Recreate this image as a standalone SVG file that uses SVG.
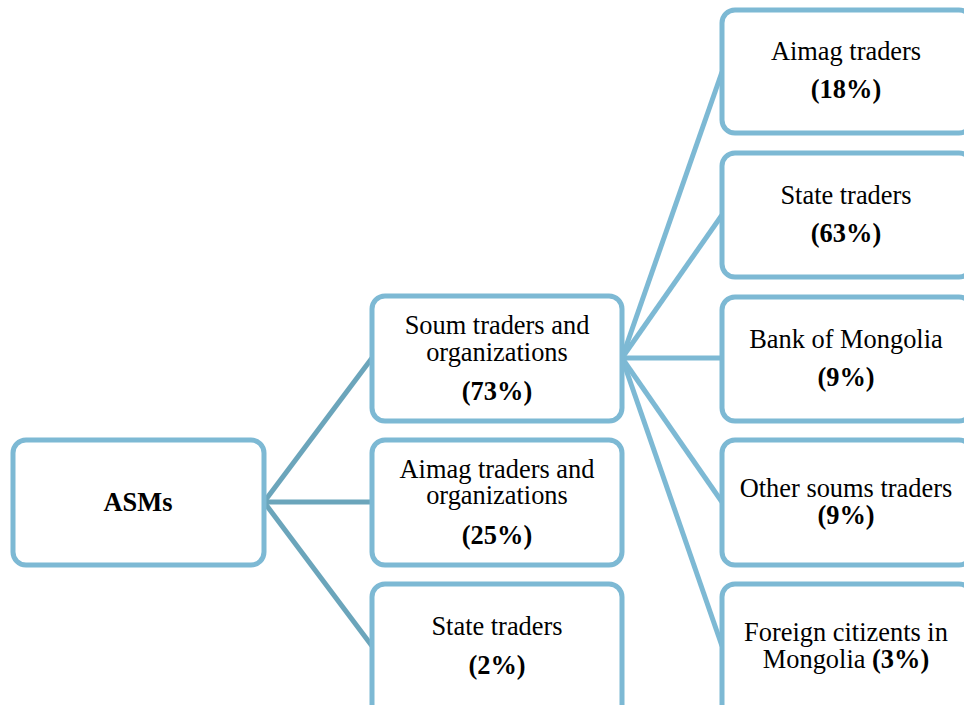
<svg xmlns="http://www.w3.org/2000/svg" width="964" height="705" viewBox="0 0 964 705">
<style>
.box{fill:#fff;stroke:#7db9d4;stroke-width:5}
.t{font-family:"Liberation Serif","Times New Roman",serif;font-size:26.4px;fill:#000;text-anchor:middle}
.b{font-weight:bold}
.c1{stroke:#6ba5bb;stroke-width:5;fill:none}
.c2{stroke:#7db9d4;stroke-width:5;fill:none}
</style>
<rect width="964" height="705" fill="#fff"/>
<g id="connectors">
<line class="c1" x1="264" y1="502" x2="372" y2="358"/>
<line class="c1" x1="264" y1="502" x2="372" y2="502"/>
<line class="c1" x1="264" y1="502" x2="372" y2="646"/>
<line class="c2" x1="622" y1="358" x2="722" y2="72"/>
<line class="c2" x1="622" y1="358" x2="722" y2="215"/>
<line class="c2" x1="622" y1="358" x2="722" y2="358"/>
<line class="c2" x1="622" y1="358" x2="722" y2="502"/>
<line class="c2" x1="622" y1="358" x2="722" y2="646"/>
</g>
<g id="asms">
<rect class="box" x="13" y="440" width="251" height="125" rx="13"/>
<text class="t b" x="138" y="511">ASMs</text>
</g>
<g id="soum">
<rect class="box" x="372" y="296" width="250" height="125" rx="13"/>
<text class="t" x="497" y="334">Soum traders and</text>
<text class="t" x="497" y="361">organizations</text>
<text class="t b" x="497" y="400">(73%)</text>
</g>
<g id="aimag">
<rect class="box" x="372" y="440" width="250" height="125" rx="13"/>
<text class="t" x="497" y="478">Aimag traders and</text>
<text class="t" x="497" y="504">organizations</text>
<text class="t b" x="497" y="544">(25%)</text>
</g>
<g id="state">
<rect class="box" x="372" y="584" width="250" height="135" rx="13"/>
<text class="t" x="497" y="635">State traders</text>
<text class="t b" x="497" y="674">(2%)</text>
</g>
<g id="r-aimag">
<rect class="box" x="722" y="10" width="250" height="123" rx="13"/>
<text class="t" x="846" y="60">Aimag traders</text>
<text class="t b" x="846" y="98">(18%)</text>
</g>
<g id="r-state">
<rect class="box" x="722" y="153" width="250" height="124" rx="13"/>
<text class="t" x="846" y="204">State traders</text>
<text class="t b" x="846" y="242">(63%)</text>
</g>
<g id="r-bank">
<rect class="box" x="722" y="297" width="250" height="124" rx="13"/>
<text class="t" x="846" y="348">Bank of Mongolia</text>
<text class="t b" x="846" y="386">(9%)</text>
</g>
<g id="r-other">
<rect class="box" x="722" y="440" width="250" height="125" rx="13"/>
<text class="t" x="846" y="497">Other soums traders</text>
<text class="t b" x="846" y="524">(9%)</text>
</g>
<g id="r-foreign">
<rect class="box" x="722" y="584" width="250" height="135" rx="13"/>
<text class="t" x="846" y="641">Foreign citizents in</text>
<text class="t" x="846" y="668">Mongolia <tspan class="b">(3%)</tspan></text>
</g>
</svg>
